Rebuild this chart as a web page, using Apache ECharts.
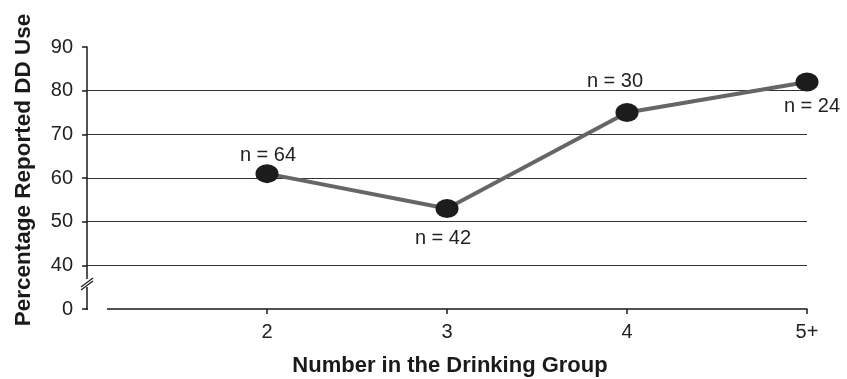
<!DOCTYPE html>
<html>
<head>
<meta charset="utf-8">
<script src="https://cdn.jsdelivr.net/npm/echarts@6/dist/echarts.min.js"></script>
<style>html,body{margin:0;padding:0;background:#fff;}#c{width:847px;height:379px;}</style>
</head>
<body>
<div id="c"></div>
<script>
var categories = ['', '2', '3', '4', '5+'];
var values = [null, 61, 53, 75, 82];
var nLabels = ['', 'n = 64', 'n = 42', 'n = 30', 'n = 24'];
var yTickValues = [30, 40, 50, 60, 70, 80, 90];
var yTickLabels = ['0', '40', '50', '60', '70', '80', '90'];

var labelPlacement = [null,
  {position: 'top', offset: [1, 5]},
  {position: 'bottom', offset: [-4, 6]},
  {position: 'top', offset: [-12, -8]},
  {position: 'bottom', offset: [5, 1]}
];

var font = 'Liberation Sans, Arial, Helvetica, sans-serif';
var chart = echarts.init(document.getElementById('c'), null, {renderer: 'canvas'});

var seriesData = values.map(function (v, i) {
  if (v === null) return null;
  var p = labelPlacement[i];
  return {
    value: v,
    label: {show: true, position: p.position, offset: p.offset, formatter: nLabels[i]}
  };
});

chart.setOption({
  animation: false,
  backgroundColor: '#fff',
  grid: {left: 87, right: 40, top: 47, bottom: 70, containLabel: false, outerBoundsMode: 'none'},
  xAxis: {
    type: 'category',
    data: categories,
    boundaryGap: false,
    name: 'Number in the Drinking Group',
    nameLocation: 'middle',
    nameGap: 46,
    nameTextStyle: {fontFamily: font, fontWeight: 'bold', fontSize: 22, color: '#1a1a1a', padding: [0, 0, 0, 6]},
    axisLine: {show: true, lineStyle: {color: '#1a1a1a', width: 1.5}},
    axisTick: {show: true, length: 5, alignWithLabel: true, interval: function (i) { return i > 0; }, lineStyle: {color: '#1a1a1a', width: 1.5}},
    axisLabel: {fontFamily: font, fontSize: 20, color: '#222', margin: 13, interval: 0},
    splitLine: {show: false}
  },
  yAxis: {
    type: 'value',
    min: 30,
    max: 90,
    interval: 10,
    name: 'Percentage Reported DD Use',
    nameLocation: 'middle',
    nameGap: 52,
    nameTextStyle: {fontFamily: font, fontWeight: 'bold', fontSize: 22.5, color: '#1a1a1a', padding: [0, 0, 0, 16]},
    axisLine: {show: true, lineStyle: {color: '#1a1a1a', width: 1.5}},
    axisTick: {show: true, length: 5, lineStyle: {color: '#1a1a1a', width: 1.5}},
    axisLabel: {
      fontFamily: font, fontSize: 20, color: '#222', margin: 14,
      formatter: function (v) { var k = yTickValues.indexOf(v); return k >= 0 ? yTickLabels[k] : ''; }
    },
    splitLine: {show: true, lineStyle: {color: ['transparent', '#333', '#333', '#333', '#333', '#333', 'transparent'], width: 1}}
  },
  series: [{
    type: 'line',
    data: seriesData,
    symbol: 'circle',
    symbolSize: [23, 19],
    itemStyle: {color: '#1c1c1c'},
    lineStyle: {color: '#666', width: 4},
    label: {fontFamily: font, fontSize: 20, color: '#222', distance: 4},
    z: 3
  }]
});

// axis break decoration: gap in the x axis line and slash marks on the y axis
var origin = chart.convertToPixel({gridIndex: 0}, [0, 30]);
var ax = origin[0], ay = origin[1];
chart.setOption({
  graphic: [
    {type: 'rect', shape: {x: ax + 1, y: ay - 3, width: 19, height: 6}, style: {fill: '#fff'}, z: 100},
    {type: 'rect', shape: {x: ax - 3, y: ay - 30, width: 6, height: 8}, style: {fill: '#fff'}, z: 100},
    {type: 'line', shape: {x1: ax - 6, y1: ay - 22, x2: ax + 6, y2: ay - 31}, style: {stroke: '#1a1a1a', lineWidth: 1.2}, z: 101},
    {type: 'line', shape: {x1: ax - 6, y1: ay - 19, x2: ax + 6, y2: ay - 28}, style: {stroke: '#1a1a1a', lineWidth: 1.2}, z: 101}
  ]
});
</script>
</body>
</html>
